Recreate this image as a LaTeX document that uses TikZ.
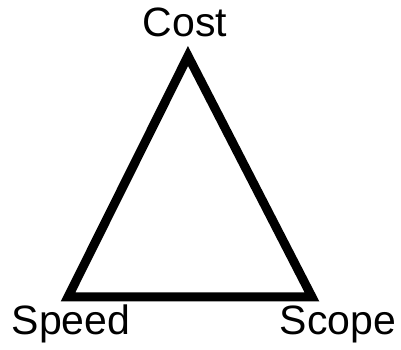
\documentclass[tikz,border=0pt]{standalone}
\usepackage{fontspec}
\setmainfont{Liberation Sans}
\begin{document}
\begin{tikzpicture}[x=1pt,y=1pt,
  lbl/.style={font=\fontsize{41}{44}\selectfont, inner sep=0pt, anchor=base},
  edge/.style={line width=9pt, line join=miter, black}]
\useasboundingbox (0,0) rectangle (401,350);
\coordinate (cost) at (188,294);
\coordinate (speed) at (68,53);
\coordinate (scope) at (312,53);
\draw[edge] (cost) -- (speed) -- (scope) -- cycle;
\node[lbl] (tcost) at (185,313) {Cost};
\node[lbl] (tspeed) at (71,15) {Speed};
\node[lbl] (tscope) at (338,15) {Scope};
\end{tikzpicture}
\end{document}
